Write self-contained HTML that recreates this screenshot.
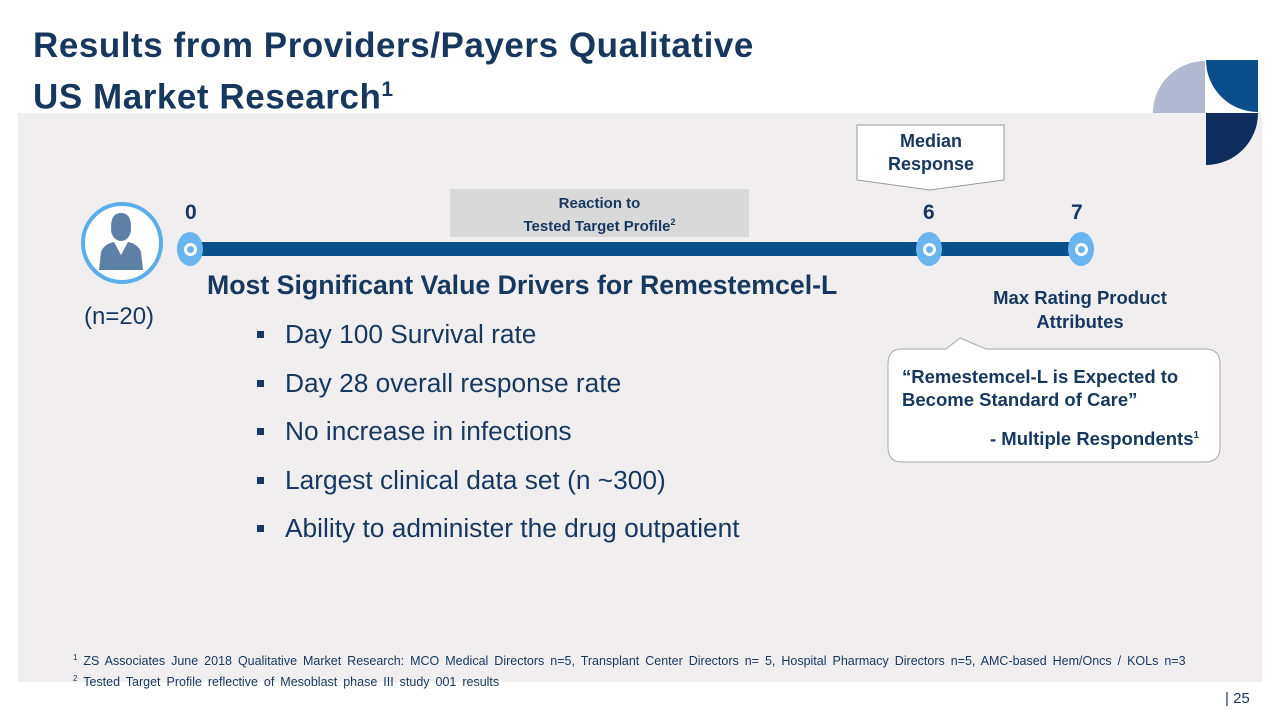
<!DOCTYPE html>
<html><head><meta charset="utf-8"><style>
body{margin:0;width:1280px;height:720px;background:#fff;position:relative;overflow:hidden;font-family:"Liberation Sans",Arial,sans-serif;color:#17375e}
.a{position:absolute}
.title{left:33px;top:24px;font-size:35px;font-weight:bold;line-height:44px;color:#17375e;letter-spacing:0.55px}
.panel{left:18px;top:113px;width:1244px;height:569px;background:#f0eeef}
.b{font-weight:bold}
ul{margin:0;padding:0;list-style:none}
li{position:relative;padding-left:30px;font-size:26.3px;color:#17375e;height:48.5px;line-height:28px}
li:before{content:"";position:absolute;left:2px;top:11px;width:7px;height:7px;background:#17375e}
.node{width:26px;height:34px;border-radius:50%;background:#6ab4f0}
.node:after{content:"";position:absolute;left:7px;top:11px;width:7px;height:7px;border:3px solid #fff;border-radius:50%;background:#6ab4f0}
</style></head><body>
<div class="a panel"></div>
<div class="a title">Results from Providers/Payers Qualitative<br>US Market Research<sup style="font-size:21px">1</sup></div>
<svg class="a" style="left:1150px;top:58px" width="112" height="112">
<path d="M3 55 A52 52 0 0 1 55 3 L55 55 Z" fill="#b0b9cf"/>
<path d="M56 2 L108 2 L108 54 A52 52 0 0 1 56 2 Z" fill="#0b4f8a"/>
<path d="M56 55 L108 55 A52 52 0 0 1 56 107 Z" fill="#0e2d5c"/>
</svg>
<svg class="a" style="left:80px;top:200px" width="86" height="86">
<circle cx="42" cy="43" r="39" fill="#fff" stroke="#5aaeea" stroke-width="4"/>
<ellipse cx="41" cy="29" rx="10" ry="12" fill="#5e7fa6"/>
<path d="M31 27 q10 -16 20 0 q0 -14 -10 -14 q-10 0 -10 14z" fill="#5e7fa6"/>
<path d="M19 70 L21 52 Q24 44 34 42 L41 55 L48 42 Q58 44 61 52 L63 70 Z" fill="#5e7fa6"/>
</svg>
<div class="a" style="left:84px;top:303px;font-size:24px">(n=20)</div>
<div class="a" style="left:190px;top:242px;width:891px;height:14px;background:#0b4f8a"></div>
<div class="a node" style="left:177px;top:232px"></div>
<div class="a node" style="left:916px;top:232px"></div>
<div class="a node" style="left:1068px;top:232px"></div>
<div class="a b" style="left:185px;top:201px;font-size:21px">0</div>
<div class="a b" style="left:923px;top:201px;font-size:21px">6</div>
<div class="a b" style="left:1071px;top:201px;font-size:21px">7</div>
<div class="a b" style="left:450px;top:189px;width:299px;height:48px;background:#d9d9d9;font-size:15px;text-align:center;line-height:18px;padding-top:6px;box-sizing:border-box">Reaction to<br>Tested Target Profile<sup style="font-size:9px">2</sup></div>
<svg class="a" style="left:855px;top:124px" width="152" height="70"><path d="M2 1 H149 V56 L75 66 L2 56 Z" fill="#fff" stroke="#999"/></svg>
<div class="a b" style="left:857px;top:130px;width:148px;text-align:center;font-size:18px;line-height:23px">Median<br>Response</div>
<div class="a b" style="left:970px;top:286px;width:220px;text-align:center;font-size:18.5px;line-height:24px">Max Rating Product<br>Attributes</div>
<svg class="a" style="left:886px;top:336px" width="338" height="130"><path d="M16 13 H60 L74 2 L100 13 H319 Q334 13 334 28 V111 Q334 126 319 126 H16 Q2 126 2 111 V28 Q2 13 16 13 Z" fill="#fff" stroke="#aaa"/></svg>
<div class="a b" style="left:902px;top:365px;font-size:18.5px;line-height:23px">“Remestemcel-L is Expected to<br>Become Standard of Care”</div>
<div class="a b" style="left:990px;top:428px;font-size:18.5px">- Multiple Respondents<sup style="font-size:10px">1</sup></div>
<div class="a b" style="left:207px;top:270px;font-size:26.7px">Most Significant Value Drivers for Remestemcel-L</div>
<ul class="a" style="left:255px;top:320px">
<li>Day 100 Survival rate</li>
<li>Day 28 overall response rate</li>
<li>No increase in infections</li>
<li>Largest clinical data set (n ~300)</li>
<li>Ability to administer the drug outpatient</li>
</ul>
<div class="a" style="left:73px;top:649px;font-size:12.5px;line-height:17px;word-spacing:2.5px"><sup style="font-size:8px">1</sup> ZS Associates June 2018 Qualitative Market Research: MCO Medical Directors n=5, Transplant Center Directors n= 5, Hospital Pharmacy Directors n=5, AMC-based Hem/Oncs / KOLs n=3<br><sup style="font-size:8px">2</sup> Tested Target Profile reflective of Mesoblast phase III study 001 results</div>
<div class="a" style="left:1225px;top:690px;font-size:15px;color:#17375e">| 25</div>
</body></html>
